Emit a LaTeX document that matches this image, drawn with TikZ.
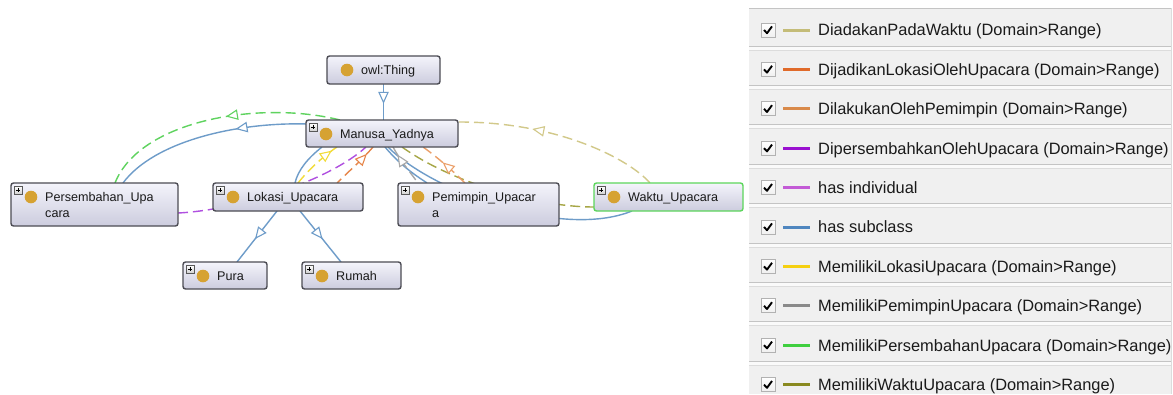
\documentclass[tikz,border=0pt]{standalone}
\usepackage{fontspec}
\setmainfont{Liberation Sans}
\usetikzlibrary{arrows.meta,decorations.markings,calc,backgrounds}

% node colours
\definecolor{boxedge}{HTML}{4C4C54}
\definecolor{boxtop}{HTML}{F4F4FB}
\definecolor{boxbot}{HTML}{CCCCDE}
\definecolor{selgreen}{HTML}{5CD65C}
\definecolor{gold}{HTML}{D6A232}
\definecolor{txt}{HTML}{1A1A1A}
% edge colours
\definecolor{eSub}{HTML}{6E9CC9}
\definecolor{eGreen}{HTML}{5FD35F}
\definecolor{eKhaki}{HTML}{D2C98A}
\definecolor{eOrA}{HTML}{E6864A}
\definecolor{eOrB}{HTML}{EBA06A}
\definecolor{ePurple}{HTML}{B050E0}
\definecolor{eYellow}{HTML}{F2DC3A}
\definecolor{eGray}{HTML}{A8A8A8}
\definecolor{eOlive}{HTML}{A6A646}
% legend colours
\definecolor{lA}{HTML}{C4BC78}
\definecolor{lB}{HTML}{E06A2A}
\definecolor{lC}{HTML}{D98A4A}
\definecolor{lD}{HTML}{9A10D0}
\definecolor{lE}{HTML}{C35BD6}
\definecolor{lF}{HTML}{4F86BF}
\definecolor{lG}{HTML}{F5D010}
\definecolor{lH}{HTML}{8A8A8A}
\definecolor{lI}{HTML}{3FCF3F}
\definecolor{lJ}{HTML}{8A8A20}
\definecolor{panel}{HTML}{F0F0F0}
\definecolor{band}{HTML}{FAFAFA}
\definecolor{sepdark}{HTML}{C4C4C4}
\definecolor{seplight}{HTML}{DCDCDC}

\tikzset{
  clsbox/.style={draw=boxedge, line width=1.4pt, rounded corners=2.5pt,
    top color=boxtop, bottom color=boxbot, inner sep=0pt, outer sep=0pt},
  selbox/.style={draw=selgreen},
  plainbox/.style={},
  clstext/.style={font=\fontsize{12.6}{16}\selectfont, inner sep=0pt, text=txt},
  legtext/.style={font=\fontsize{16.4}{19}\selectfont, inner sep=0pt, text=txt},
  plusbox/.style={draw=black!65, line width=0.5pt, top color=white, bottom color=black!18},
  edgeline/.style={line width=1.4pt},
  dashedge/.style={edgeline, dash pattern=on 10pt off 5pt},
  tipfwd/.style={postaction={decorate}, decoration={markings,
    mark=at position #1 with {\arrow{Triangle[length=12pt,width=10.5pt,fill=white,line width=1.1pt]}}}},
  tiprev/.style={postaction={decorate}, decoration={markings,
    mark=at position #1 with {\arrowreversed{Triangle[length=12pt,width=10.5pt,fill=white,line width=1.1pt]}}}}
}

% class box: name, x1, y1, x2, y2, extra style
\newcommand\ontobox[6]{%
  \node[clsbox,#6,minimum width={(#4)-(#2)},minimum height={(#5)-(#3)}]
    (#1) at ({((#2)+(#4))/2},{((#3)+(#5))/2}) {};
  \fill[gold] ($(#1.north west)+(20,14)$) circle (6.3pt);
}
% expand marker in the upper left corner
\newcommand\ontoplus[1]{%
  \draw[plusbox] ($(#1.north west)+(3,3)$) rectangle +(8,8);
  \draw[black, line width=0.7pt] ($(#1.north west)+(4.8,7)$) -- +(4.4,0)
    ($(#1.north west)+(7,4.8)$) -- +(0,4.4);
}
% label lines
\newcommand\ontolabel[2]{%
  \node[clstext, anchor=base west] (#1-l) at ($(#1.north west)+(34,18.5)$) {#2};
}
\newcommand\ontolabelii[2]{%
  \node[clstext, anchor=base west] (#1-m) at ($(#1.north west)+(34,34.5)$) {#2};
}

\begin{document}
\begin{tikzpicture}[x=1pt,y=-1pt]
\useasboundingbox (0,0) rectangle (1173,394);

% ---------- class graph ----------
\ontobox{thing}{327}{56}{440}{84}{plainbox}
\ontolabel{thing}{owl:Thing}

\ontobox{man}{306}{120}{458}{147}{plainbox}
\ontoplus{man}
\ontolabel{man}{Manusa\_Yadnya}

\ontobox{pers}{11}{183}{178}{226}{plainbox}
\ontoplus{pers}
\ontolabel{pers}{Persembahan\_Upa}
\ontolabelii{pers}{cara}

\ontobox{lok}{213}{183}{363}{211}{plainbox}
\ontoplus{lok}
\ontolabel{lok}{Lokasi\_Upacara}

\ontobox{pem}{398}{183}{559}{226}{plainbox}
\ontoplus{pem}
\ontolabel{pem}{Pemimpin\_Upacar}
\ontolabelii{pem}{a}

\ontobox{wak}{594}{183}{743}{211}{selbox}
\ontoplus{wak}
\ontolabel{wak}{Waktu\_Upacara}

\ontobox{pura}{183}{262}{267}{289}{plainbox}
\ontoplus{pura}
\ontolabel{pura}{Pura}

\ontobox{rumah}{302}{262}{401}{289}{plainbox}
\ontoplus{rumah}
\ontolabel{rumah}{Rumah}

% ---------- connectors (behind the boxes) ----------
\begin{pgfonlayer}{background}
\fill[white] (0,0) rectangle (1173,394);

% has subclass
\draw[edgeline, eSub, tipfwd=0.55] (thing.south) -- (thing.south |- man.north);
\draw[edgeline, eSub, tipfwd=0.36] ($(man.north west)+(1,4)$)
  .. controls (240,122) and (155,140) .. ($(pers.north west)+(112,0)$);
\draw[edgeline, eSub] ($(man.south west)+(16,0)$)
  .. controls (308,158) and (298,170) .. ($(lok.north west)+(82,0)$);
\draw[edgeline, eSub] ($(man.south west)+(79,0)$)
  .. controls (400,165) and (415,175) .. ($(pem.north west)+(29,0)$);
\draw[edgeline, eSub] ($(man.south west)+(82,0)$)
  .. controls (430,190) and (560,240) .. ($(wak.south west)+(38,0)$);
\draw[edgeline, eSub, tipfwd=0.55] ($(lok.south west)+(64,0)$) -- ($(pura.north west)+(54,0)$);
\draw[edgeline, eSub, tipfwd=0.55] ($(lok.south west)+(87,0)$) -- ($(rumah.north west)+(39,0)$);

% object properties
\draw[dashedge, eGreen, tipfwd=0.46] ($(man.north west)+(34,0)$)
  .. controls (260,100) and (140,120) .. ($(pers.north west)+(104,0)$);
\draw[dashedge, eYellow, tipfwd=0.88] ($(lok.north west)+(85,0)$)
  .. controls (310,168) and (325,155) .. ($(man.south west)+(31,0)$);
\draw[dashedge, ePurple] ($(pers.south east)+(0,-13)$)
  .. controls (240,210) and (330,180) .. ($(man.south west)+(60,0)$);
\draw[dashedge, eOrA, tiprev=0.18] ($(man.south west)+(67,0)$)
  .. controls (362,160) and (348,172) .. ($(lok.north west)+(124,0)$);
\draw[dashedge, eGray, tiprev=0.2] ($(man.south west)+(87,0)$)
  .. controls (400,160) and (410,172) .. ($(pem.north west)+(20,0)$);
\draw[dashedge, eOlive] ($(man.south west)+(96,0)$)
  .. controls (455,185) and (540,207) .. ($(wak.west)+(0,10)$);
\draw[dashedge, eOrB, tipfwd=0.55] ($(pem.north west)+(67,0)$)
  .. controls (452,170) and (437,157) .. ($(man.south west)+(117,0)$);
\draw[dashedge, eKhaki, tiprev=0.36] ($(man.north east)+(1,2)$)
  .. controls (560,122) and (630,160) .. ($(wak.north west)+(56,0)$);
\end{pgfonlayer}

% ---------- legend ----------
\fill[panel] (749,8) rectangle (1171,394);
\draw[sepdark, line width=0.8pt] (749,8) -- (1171,8);
\draw[seplight, line width=0.8pt] (1171,8) -- (1171,394);
\foreach \k in {0,...,8}{
  \fill[band] (749,{46+39.4*\k}) rectangle (1171,{50+39.4*\k});
  \draw[sepdark, line width=0.8pt] (749,{46+39.4*\k}) -- (1171,{46+39.4*\k});
  \draw[seplight, line width=0.8pt] (749,{50+39.4*\k}) -- (1171,{50+39.4*\k});
}
\foreach \c/\t [count=\i from 0] in {
  lA/{DiadakanPadaWaktu (Domain>Range)},
  lB/{DijadikanLokasiOlehUpacara (Domain>Range)},
  lC/{DilakukanOlehPemimpin (Domain>Range)},
  lD/{DipersembahkanOlehUpacara (Domain>Range)},
  lE/{has individual},
  lF/{has subclass},
  lG/{MemilikiLokasiUpacara (Domain>Range)},
  lH/{MemilikiPemimpinUpacara (Domain>Range)},
  lI/{MemilikiPersembahanUpacara (Domain>Range)},
  lJ/{MemilikiWaktuUpacara (Domain>Range)}}{
  \pgfmathsetmacro\yy{30+39.4*\i}
  \draw[draw=black!30, line width=0.7pt, top color=white, bottom color=black!6]
    (761,\yy-7) rectangle (775,\yy+7);
  \draw[black, line width=1.9pt, line join=round]
    (764,\yy) -- (767,\yy+3.2) -- (772,\yy-3.6);
  \draw[\c, line width=3pt] (783,\yy) -- (810,\yy);
  \node[legtext, anchor=base west] (leg\i) at (818,\yy+5.8) {\t};
}
\end{tikzpicture}
\end{document}
